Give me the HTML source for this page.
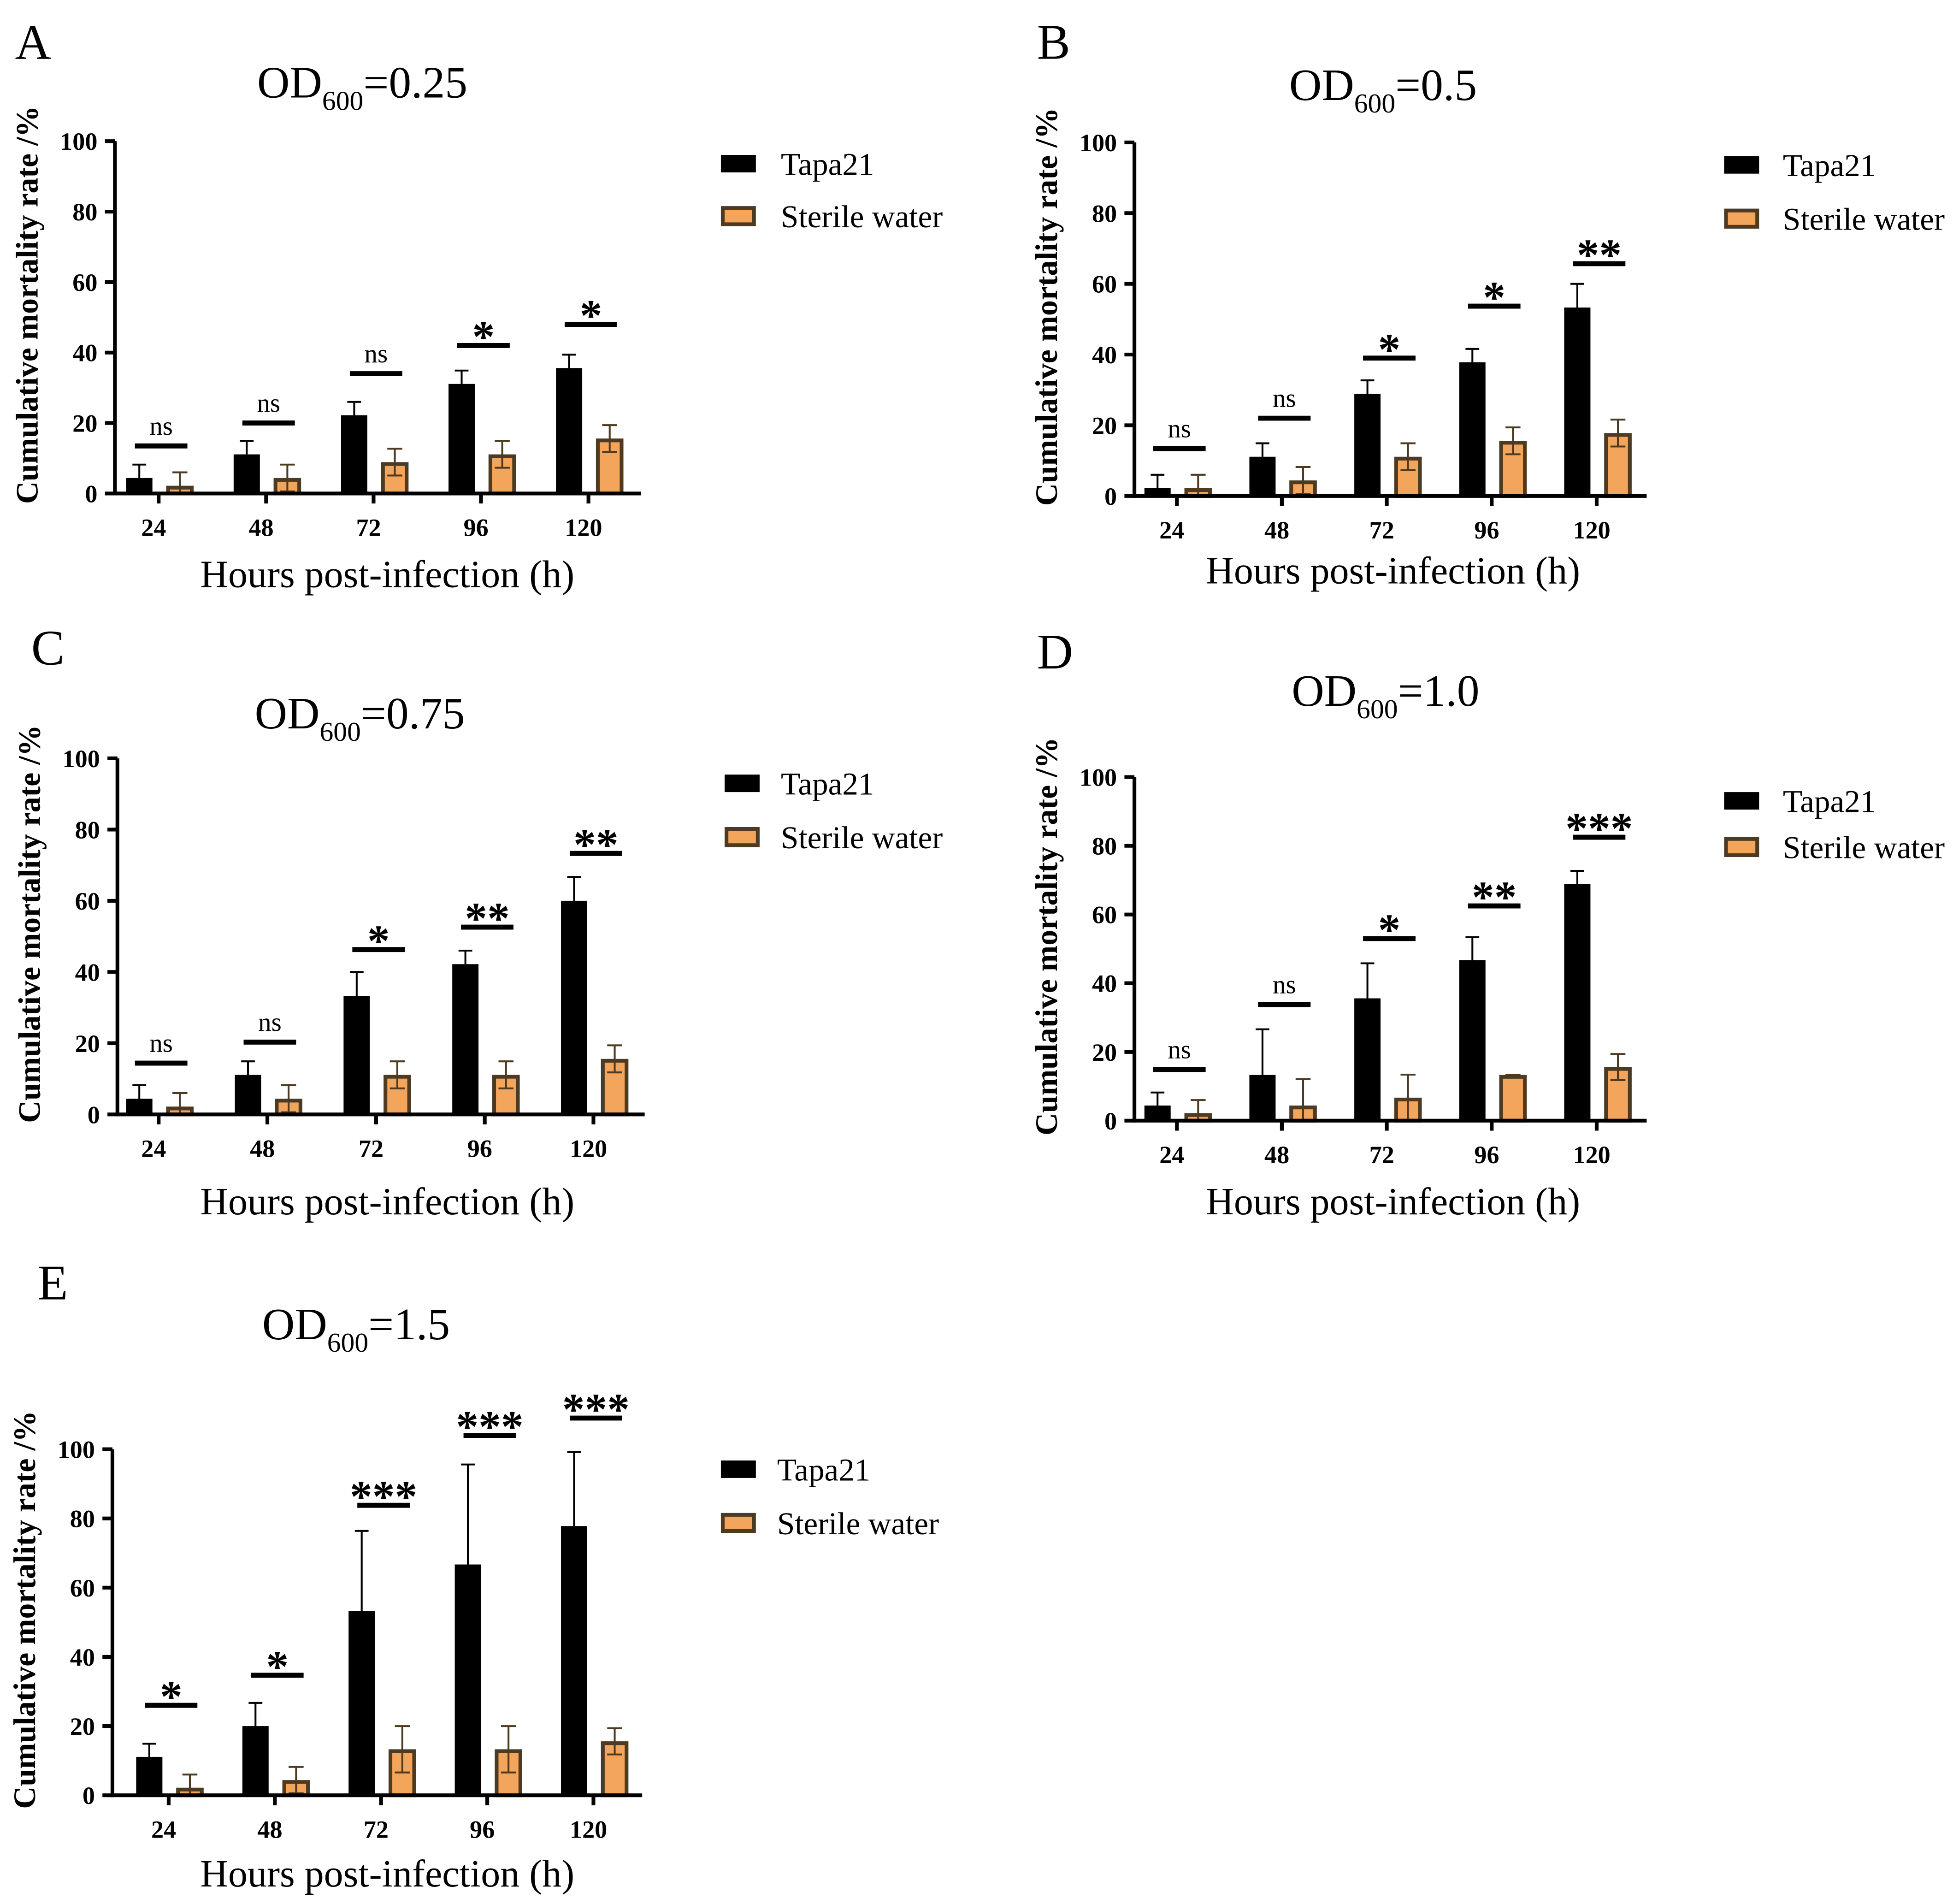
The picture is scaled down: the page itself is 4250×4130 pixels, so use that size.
<!DOCTYPE html>
<html><head><meta charset="utf-8"><style>
html,body{margin:0;padding:0;background:#fff;}
svg{display:block;font-family:"Liberation Serif",serif;}
</style></head><body>
<svg id="fig" width="4250" height="4130" viewBox="0 0 1568 1524" preserveAspectRatio="none" xmlns="http://www.w3.org/2000/svg"></svg>
<script>
const categories = ["24","48","72","96","120"];
const yTicks = [0,20,40,60,80,100];
const tapaA = [4.4,11.1,22.2,31.1,35.6];
const tapaErrA = [3.8,3.8,3.8,3.8,3.8];
const waterA = [2.2,4.4,8.9,11.1,15.6];
const waterErrA = [3.8,3.8,3.8,3.8,3.8];
const sigA = ["ns","ns","ns","*","*"];
const sigYA = [13.5,20,34,42,48];
const tapaB = [2.2,11.1,28.9,37.8,53.3];
const tapaErrB = [3.8,3.8,3.8,3.8,6.7];
const waterB = [2.2,4.4,11.1,15.6,17.8];
const waterErrB = [3.8,3.8,3.8,3.8,3.8];
const sigB = ["ns","ns","*","*","**"];
const sigYB = [13.4,22,39,53.7,65.7];
const tapaC = [4.4,11.1,33.3,42.2,60];
const tapaErrC = [3.8,3.8,6.7,3.8,6.7];
const waterC = [2.2,4.4,11.1,11.1,15.6];
const waterErrC = [3.8,3.8,3.8,3.8,3.8];
const sigC = ["ns","ns","*","**","**"];
const sigYC = [14.4,20.3,46.3,52.6,73.3];
const tapaD = [4.4,13.3,35.6,46.7,68.9];
const tapaErrD = [3.8,13.3,10.2,6.7,3.8];
const waterD = [2.2,4.4,6.7,13.3,15.6];
const waterErrD = [3.8,7.7,6.7,0,3.8];
const sigD = ["ns","ns","*","**","***"];
const sigYD = [14.9,33.8,53,62.5,82.5];
const tapaE = [11.1,20,53.3,66.7,77.8];
const tapaErrE = [3.8,6.7,23.1,28.9,21.4];
const waterE = [2.2,4.4,13.3,13.3,15.6];
const waterErrE = [3.8,3.8,6.7,6.7,3.8];
const sigE = ["*","*","***","***","***"];
const sigYE = [26,34.7,83.8,104,109];

const NS="http://www.w3.org/2000/svg";
const svg=document.getElementById('fig');
function el(tag,attrs,parent,text){const e=document.createElementNS(NS,tag);for(const k in attrs)e.setAttribute(k,attrs[k]);if(text!==undefined)e.textContent=text;(parent||svg).appendChild(e);return e;}

const panels=[
 {id:'a',letter:'A',lx:12,ly:47,ax:92,top:113,bot:395,right:513,c0:127,sp:86,title:[290,78],leg:[577,625,131,173],xl:[310,470],
  t:tapaA,te:tapaErrA,w:waterA,we:waterErrA,s:sigA,sy:sigYA,od:'0.25'},
 {id:'b',letter:'B',lx:830,ly:47,ax:908,top:114,bot:397,right:1318,c0:942,sp:84,title:[1107,80],leg:[1380,1427,132,175],xl:[1115,467],
  t:tapaB,te:tapaErrB,w:waterB,we:waterErrB,s:sigB,sy:sigYB,od:'0.5'},
 {id:'c',letter:'C',lx:25,ly:532,ax:94,top:607,bot:892,right:516,c0:127,sp:87,title:[288,583],leg:[580,625,627,670],xl:[310,972],
  t:tapaC,te:tapaErrC,w:waterC,we:waterErrC,s:sigC,sy:sigYC,od:'0.75'},
 {id:'d',letter:'D',lx:830,ly:535,ax:908,top:622,bot:897,right:1318,c0:942,sp:84,title:[1109,565],leg:[1380,1427,641,678],xl:[1115,972],
  t:tapaD,te:tapaErrD,w:waterD,we:waterErrD,s:sigD,sy:sigYD,od:'1.0'},
 {id:'e',letter:'E',lx:30,ly:1040,ax:90,top:1160,bot:1437,right:514,c0:135,sp:85,title:[285,1072],leg:[577,622,1176,1219],xl:[310,1510],
  t:tapaE,te:tapaErrE,w:waterE,we:waterErrE,s:sigE,sy:sigYE,od:'1.5'}
];

panels.forEach(p=>{
  const g=el('g',{});
  
  
  const y=v=>p.bot-(p.bot-p.top)*v/100;
  const cx=i=>p.c0+p.sp*i;
  const L=el('text',{x:p.lx,y:p.ly,'font-size':40},g,p.letter);
  
  
  const T=el('text',{x:p.title[0],y:p.title[1],'font-size':36,'text-anchor':'middle'},g);
  
  
  el('tspan',{},T,'OD');
  el('tspan',{'font-size':22,dy:10},T,'600');
  el('tspan',{dy:-10},T,'='+p.od);
  for(let i=0;i<categories.length;i++){
    const c=cx(i);
    const bt=el('rect',{x:c-26,y:y(p.t[i]),width:21,height:p.bot-y(p.t[i]),fill:'#000'},g);
    
    
    const et=y(p.t[i]+p.te[i]);
    el('line',{x1:c-15.5,x2:c-15.5,y1:y(p.t[i]),y2:et,stroke:'#000','stroke-width':1.5},g);
    el('line',{x1:c-21,x2:c-10,y1:et,y2:et,stroke:'#000','stroke-width':1.5},g);
    const bw=el('rect',{x:c+7.5,y:y(p.w[i])+1.5,width:19,height:Math.max(0,p.bot-y(p.w[i])-1.5),fill:'#f4a55c',stroke:'#4d3a22','stroke-width':3},g);
    
    
    const w1=y(p.w[i]+p.we[i]),w0=y(Math.max(0,p.w[i]-p.we[i]));
    el('line',{x1:c+17,x2:c+17,y1:w0,y2:w1,stroke:'#4d3a22','stroke-width':1.5},g);
    el('line',{x1:c+11,x2:c+23,y1:w1,y2:w1,stroke:'#4d3a22','stroke-width':1.5},g);
    el('line',{x1:c+11,x2:c+23,y1:w0,y2:w0,stroke:'#4d3a22','stroke-width':1.5},g);
    const sl=el('line',{x1:c-19,x2:c+23,y1:y(p.sy[i]),y2:y(p.sy[i]),stroke:'#000','stroke-width':4},g);
    
    
    const ns=p.s[i]==='ns';
    const st=el('text',{x:c+2,y:y(p.sy[i])+(ns?-9:5),'font-size':ns?21:36,'font-weight':ns?'normal':'bold','text-anchor':'middle'},g,p.s[i]);
    
    
    el('line',{x1:c,x2:c,y1:p.bot,y2:p.bot+8,stroke:'#000','stroke-width':3},g);
    const xt=el('text',{x:c-4,y:p.bot+34,'font-size':20,'font-weight':'bold','text-anchor':'middle'},g,categories[i]);
    
    
  }
  const ya=el('line',{x1:p.ax,x2:p.ax,y1:p.top,y2:p.bot+1.5,stroke:'#000','stroke-width':3},g);
  
  
  const xa=el('line',{x1:p.ax-1.5,x2:p.right,y1:p.bot,y2:p.bot,stroke:'#000','stroke-width':3},g);
  
  
  yTicks.forEach(v=>{
    el('line',{x1:p.ax-8,x2:p.ax,y1:y(v),y2:y(v),stroke:'#000','stroke-width':3},g);
    const yt=el('text',{x:p.ax-14,y:y(v)+7,'font-size':20,'font-weight':'bold','text-anchor':'end'},g,String(v));
    
    
  });
  const yl=el('text',{x:0,y:0,'font-size':25,'font-weight':'bold','text-anchor':'middle',transform:`translate(${p.ax-62},${(p.top+p.bot)/2-10}) rotate(-90)`},g,'Cumulative mortality rate /%');
  
  
  const xl=el('text',{x:p.xl[0],y:p.xl[1],'font-size':31,'text-anchor':'middle'},g,'Hours post-infection (h)');
  
  
  const l1=el('g',{},g);
  
  
  el('rect',{x:p.leg[0],y:p.leg[2]-7,width:28,height:14,fill:'#000'},l1);
  el('text',{x:p.leg[1],y:p.leg[2]+9,'font-size':25.5},l1,'Tapa21');
  const l2=el('g',{},g);
  
  
  el('rect',{x:p.leg[0]+1.5,y:p.leg[3]-6.5,width:25,height:13,fill:'#f4a55c',stroke:'#4d3a22','stroke-width':3},l2);
  el('text',{x:p.leg[1],y:p.leg[3]+9,'font-size':25.5},l2,'Sterile water');
});
</script>
</body></html>
